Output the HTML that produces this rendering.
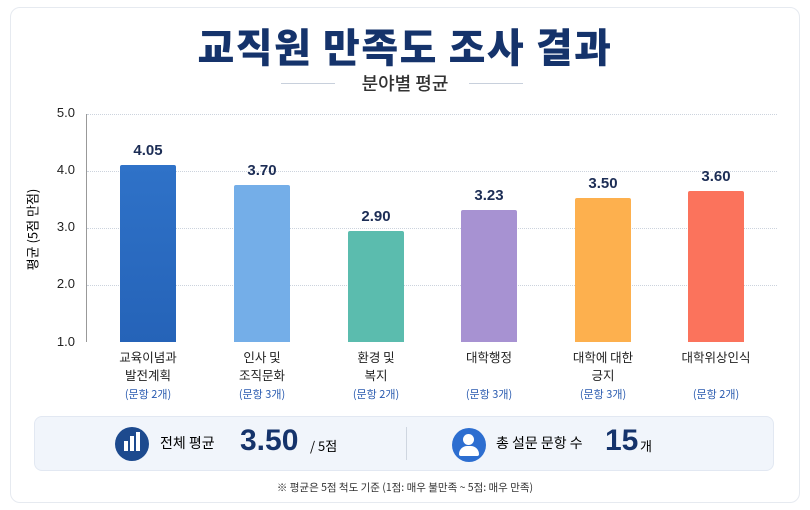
<!DOCTYPE html>
<html><head><meta charset="utf-8"><style>
body{margin:0;width:810px;height:510px;background:#fff;font-family:"Liberation Sans","Noto Sans CJK KR",sans-serif;position:relative;overflow:hidden}
.card{position:absolute;left:10px;top:7px;width:788px;height:494px;border:1px solid #e6eaf0;border-radius:10px;background:#fff}
.abs{position:absolute}
.title{left:0;width:810px;top:16px;text-align:center;font-size:40px;font-weight:900;color:#15336b;font-family:"Noto Sans CJK KR",sans-serif;letter-spacing:1.5px}
.sub{left:0;width:810px;top:70px;text-align:center;font-size:18px;font-weight:500;color:#333;font-family:"Noto Sans CJK KR",sans-serif}
.line{height:1px;background:#c8d0dc;top:83px;width:54px}
.tick{font-size:13px;color:#222;width:40px;text-align:right;left:35px}
.grid{left:87px;width:690px;border-top:1px dotted #ccd3dd;height:0}
.bar{width:56px;border-radius:2px 2px 0 0}
.val{width:80px;text-align:center;font-size:15px;font-weight:bold;color:#1c2d55}
.lab{width:110px;text-align:center;font-size:12.5px;color:#222;line-height:18px;font-family:"Noto Sans CJK KR",sans-serif}
.cnt{width:110px;text-align:center;font-size:11px;color:#2a5bb0;font-family:"Noto Sans CJK KR",sans-serif}
</style></head><body>
<div class="card"></div>
<div class="abs title">교직원 만족도 조사 결과</div>
<div class="abs line" style="left:281px"></div>
<div class="abs line" style="left:469px"></div>
<div class="abs sub">분야별 평균</div>
<div class="abs" style="left:32px;top:220px;transform:rotate(-90deg);font-size:13px;width:100px;margin-left:-50px;text-align:center;font-family:'Noto Sans CJK KR',sans-serif">평균 (5점 만점)</div>
<div class="abs" style="left:86px;top:114px;width:1px;height:228px;background:#999"></div>
<div class="abs grid" style="top:114px"></div>
<div class="abs grid" style="top:171px"></div>
<div class="abs grid" style="top:228px"></div>
<div class="abs grid" style="top:285px"></div>
<div class="abs tick" style="top:105px">5.0</div>
<div class="abs tick" style="top:162px">4.0</div>
<div class="abs tick" style="top:219px">3.0</div>
<div class="abs tick" style="top:276px">2.0</div>
<div class="abs tick" style="top:334px">1.0</div>
<div class="abs bar" style="left:120px;top:165px;height:177px;background:linear-gradient(#2f72c8,#2563b8)"></div>
<div class="abs bar" style="left:234px;top:185px;height:157px;background:#74aee8"></div>
<div class="abs bar" style="left:348px;top:231px;height:111px;background:#5bbcae"></div>
<div class="abs bar" style="left:461px;top:210px;height:132px;background:#a792d2"></div>
<div class="abs bar" style="left:575px;top:198px;height:144px;background:#fdb04e"></div>
<div class="abs bar" style="left:688px;top:191px;height:151px;background:#fb735c"></div>
<div class="abs val" style="left:108px;top:142px">4.05</div>
<div class="abs val" style="left:222px;top:162px">3.70</div>
<div class="abs val" style="left:336px;top:208px">2.90</div>
<div class="abs val" style="left:449px;top:187px">3.23</div>
<div class="abs val" style="left:563px;top:175px">3.50</div>
<div class="abs val" style="left:676px;top:168px">3.60</div>
<div class="abs lab" style="left:93px;top:348px">교육이념과<br>발전계획</div>
<div class="abs lab" style="left:207px;top:348px">인사 및<br>조직문화</div>
<div class="abs lab" style="left:321px;top:348px">환경 및<br>복지</div>
<div class="abs lab" style="left:434px;top:348px">대학행정</div>
<div class="abs lab" style="left:548px;top:348px">대학에 대한<br>긍지</div>
<div class="abs lab" style="left:661px;top:348px">대학위상인식</div>
<div class="abs cnt" style="left:93px;top:386px">(문항 2개)</div>
<div class="abs cnt" style="left:207px;top:386px">(문항 3개)</div>
<div class="abs cnt" style="left:321px;top:386px">(문항 2개)</div>
<div class="abs cnt" style="left:434px;top:386px">(문항 3개)</div>
<div class="abs cnt" style="left:548px;top:386px">(문항 3개)</div>
<div class="abs cnt" style="left:661px;top:386px">(문항 2개)</div>
<div class="abs" style="left:34px;top:416px;width:738px;height:53px;background:#f1f5fb;border:1px solid #e2e8f2;border-radius:8px"></div>
<div class="abs" style="left:406px;top:427px;width:1px;height:33px;background:#cfd6e0"></div>
<div class="abs" style="left:115px;top:427px;width:34px;height:34px;border-radius:50%;background:#1d4a8e"></div>
<div class="abs" style="left:124px;top:441px;width:4px;height:10px;background:#fff"></div>
<div class="abs" style="left:130px;top:436px;width:4px;height:15px;background:#fff"></div>
<div class="abs" style="left:136px;top:432px;width:4px;height:19px;background:#fff"></div>
<div class="abs" style="left:160px;top:433px;font-size:14px;font-family:'Noto Sans CJK KR',sans-serif">전체 평균</div>
<div class="abs" style="left:240px;top:424px;font-size:30px;font-weight:bold;color:#15336b">3.50</div>
<div class="abs" style="left:310px;top:436px;font-size:13px;font-family:'Noto Sans CJK KR',sans-serif">/ 5점</div>
<div class="abs" style="left:452px;top:428px;width:34px;height:34px;border-radius:50%;background:#2d6ed0"></div>
<div class="abs" style="left:463px;top:434px;width:11px;height:11px;border-radius:50%;background:#fff"></div>
<div class="abs" style="left:459px;top:446px;width:20px;height:10px;border-radius:9px 9px 2px 2px;background:#fff"></div>
<div class="abs" style="left:496px;top:433px;font-size:14px;font-family:'Noto Sans CJK KR',sans-serif">총 설문 문항 수</div>
<div class="abs" style="left:605px;top:424px;font-size:30px;font-weight:bold;color:#15336b">15</div>
<div class="abs" style="left:640px;top:436px;font-size:13px;font-family:'Noto Sans CJK KR',sans-serif">개</div>
<div class="abs" style="left:0;width:810px;top:480px;text-align:center;font-size:10.5px;color:#333;font-family:'Noto Sans CJK KR',sans-serif">※ 평균은 5점 척도 기준 (1점: 매우 불만족 ~ 5점: 매우 만족)</div>
</body></html>
